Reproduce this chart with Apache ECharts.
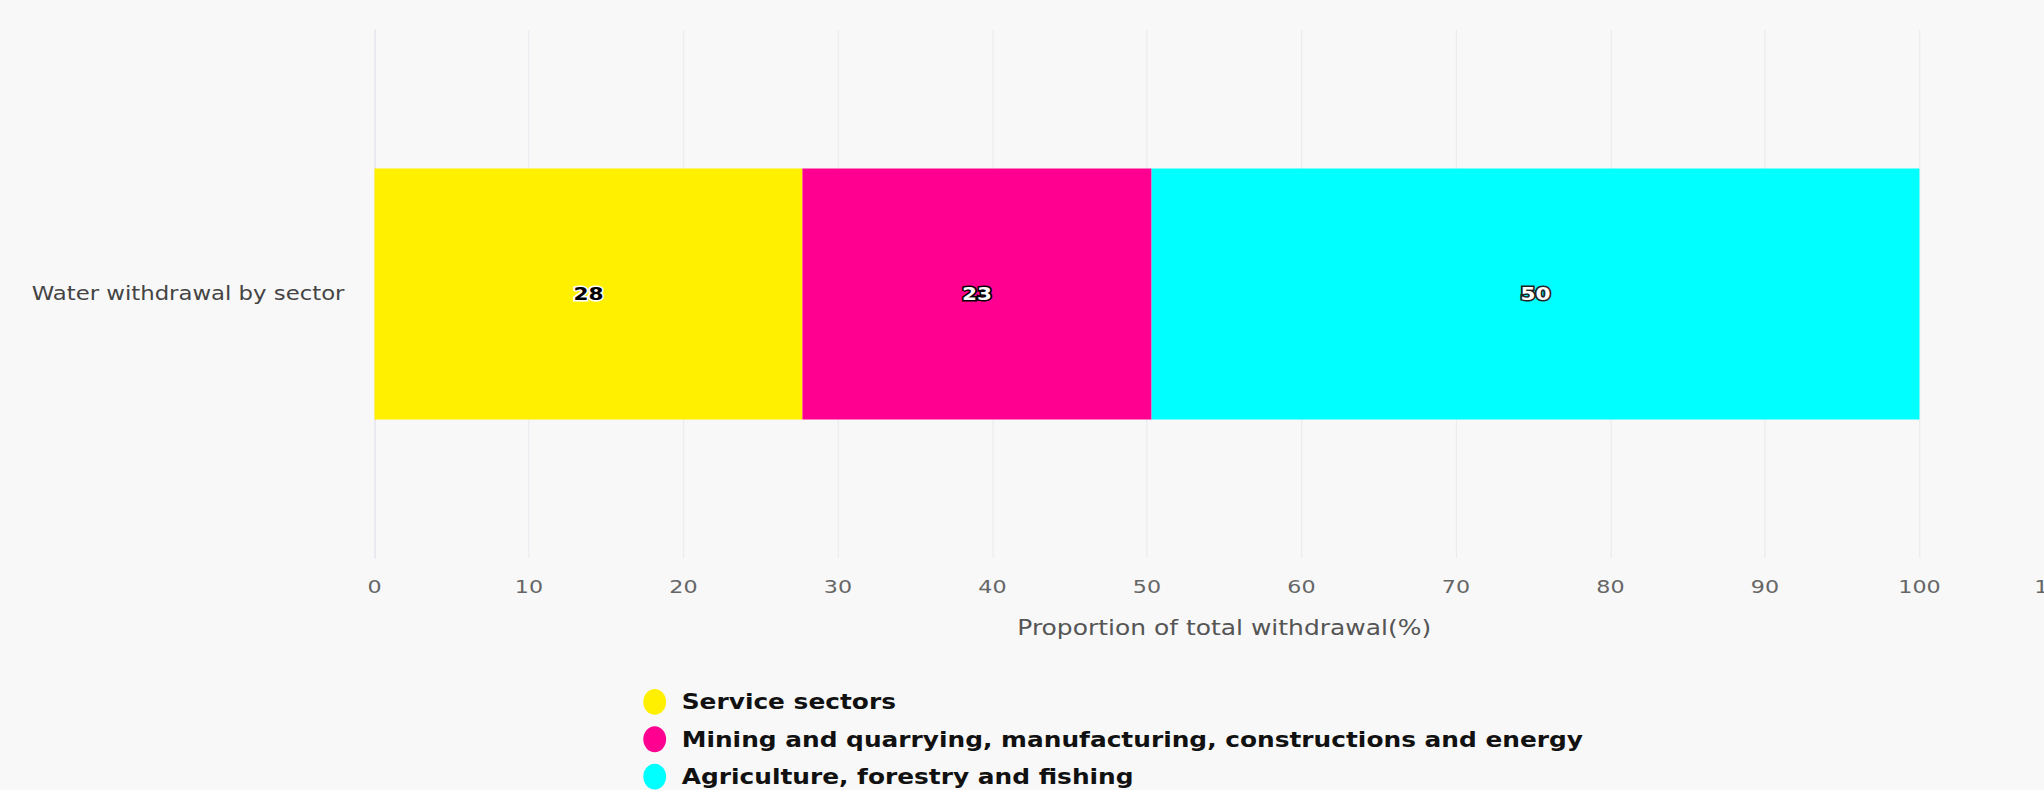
<!DOCTYPE html>
<html><head><meta charset="utf-8">
<script src="https://cdn.jsdelivr.net/npm/echarts@6/dist/echarts.min.js"></script>
<style>
html,body{margin:0;padding:0;background:#f8f8f8;overflow:hidden}
#wrap{width:2044px;height:790px;overflow:hidden;position:relative}
#chart{width:1703px;height:790px;transform:scaleX(1.2002);transform-origin:0 0;position:absolute;left:0;top:0}
</style></head><body><div id="wrap"><div id="chart"></div></div>
<script>
const categories = ['Water withdrawal by sector'];
const seriesNames = ['Service sectors', 'Mining and quarrying, manufacturing, constructions and energy', 'Agriculture, forestry and fishing'];
const serviceValues = [27.7];
const industryValues = [22.6];
const agricultureValues = [49.7];
const xTickMin = 0, xTickMax = 110, xTickStep = 10;
const axisTitle = 'Proportion of total withdrawal(%)';

const colors = ['#FFF000', '#FF0090', '#00FFFF'];
const labelStyles = [
  {color:'#000', textBorderColor:'#fff'},
  {color:'#fff', textBorderColor:'#000'},
  {color:'#fff', textBorderColor:'#222'}
];
const valueSets = [serviceValues, industryValues, agricultureValues];
const font = 'DejaVu Sans';

const chart = echarts.init(document.getElementById('chart'), null, {renderer:'svg', width:1703, height:790});
chart.setOption({
  backgroundColor:'#f8f8f8',
  animation:false,
  grid:{left:312, right:-25, top:30, bottom:232, containLabel:false, outerBoundsMode:'none'},
  legend:{
    orient:'vertical', left:536, top:689, height:110, padding:0, itemGap:11.5,
    itemWidth:19, itemHeight:26,
    icon:'path://M0,68a50,68 0 1,0 100,0a50,68 0 1,0 -100,0z',
    textStyle:{fontFamily:font, fontWeight:'bold', fontSize:20.7, color:'#111', padding:[0,0,0,8]},
    data:seriesNames
  },
  xAxis:{
    type:'value', min:xTickMin, max:xTickMax, interval:xTickStep,
    name:axisTitle, nameLocation:'middle', nameGap:59,
    nameTextStyle:{fontFamily:font, fontSize:20.8, color:'#555'},
    axisLine:{show:false}, axisTick:{show:false},
    axisLabel:{fontFamily:font, fontSize:18.5, color:'#666', margin:19,
      formatter:v=> v===xTickMax ? '{edge|'+v+'}' : String(v),
      rich:{edge:{fontFamily:font, fontSize:18.5, color:'#666', padding:[0,31,0,0]}}},
    splitLine:{show:true, lineStyle:{color:'#ebebf0', width:1}}
  },
  yAxis:{
    type:'category', data:categories,
    axisLine:{show:true, lineStyle:{color:'#e4e4ec', width:1}},
    axisTick:{show:false},
    axisLabel:{fontFamily:font, fontSize:19, color:'#444', margin:25}
  },
  series: seriesNames.map((n,i)=>({
    name:n, type:'bar', stack:'total', barWidth:251,
    data:valueSets[i],
    itemStyle:{color:colors[i]},
    label:{show:true, position:'inside', fontFamily:font, fontWeight:'bold', fontSize:18,
      color:labelStyles[i].color, textBorderColor:labelStyles[i].textBorderColor, textBorderWidth:3,
      formatter:p=>String(Math.round(p.value))}
  }))
});
</script></body></html>
